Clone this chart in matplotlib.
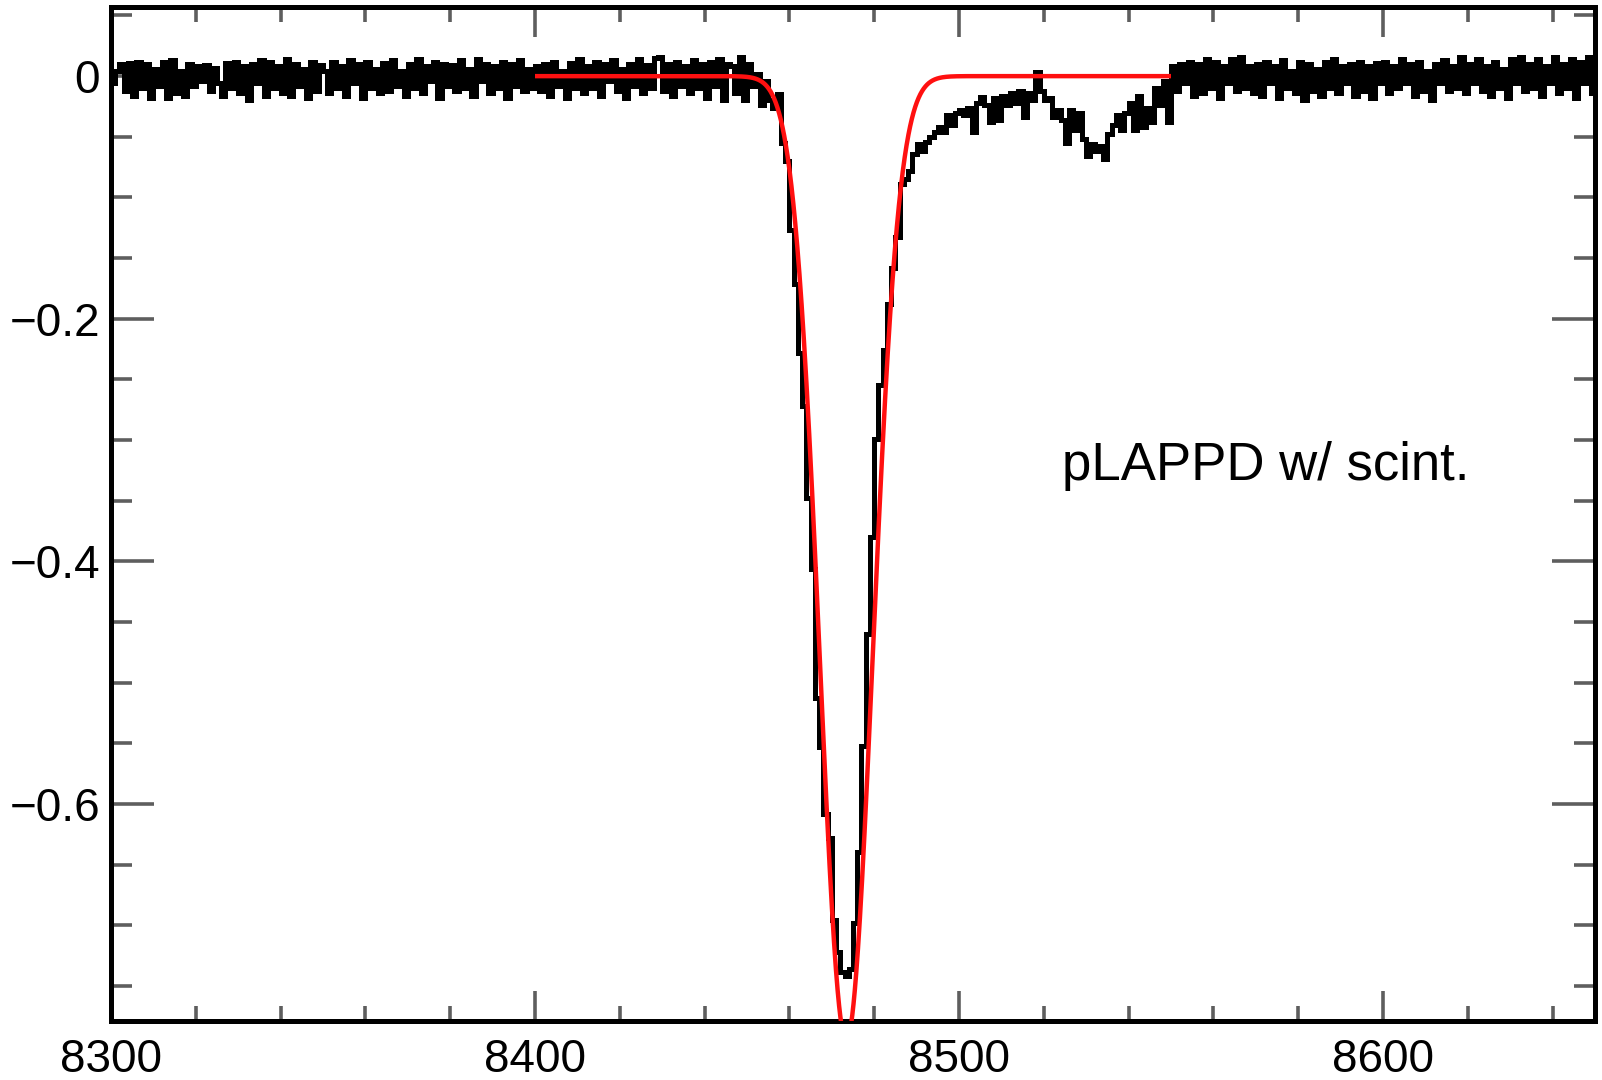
import matplotlib
matplotlib.use("Agg")
import matplotlib.pyplot as plt
import numpy as np
from matplotlib.ticker import MultipleLocator, FixedLocator, FuncFormatter

# ---------------- data ----------------
x_start = 8300.0      # left edge of first bin
bin_width = 1.0

# amplitude per bin, 8300 ... 8449
baseline_pre = [
    -0.006, 0.004, 0.010, -0.012, 0.011, -0.016, 0.012, -0.010, 0.010, -0.018,
    0.006, -0.008, 0.012, -0.018, 0.013, -0.014, 0.004, -0.016, 0.010, -0.008,
    0.008, -0.004, 0.009, -0.012, 0.007, -0.006, -0.016, 0.011, -0.010, 0.012,
    -0.014, 0.008, -0.020, 0.010, -0.006, 0.013, -0.016, 0.012, -0.010, 0.008,
    -0.014, 0.014, -0.016, 0.010, -0.008, 0.006, -0.018, 0.012, -0.012, 0.009,
    0.004, -0.014, 0.012, -0.010, 0.008, -0.016, 0.013, -0.006, 0.010, -0.018,
    0.012, -0.010, 0.006, -0.014, 0.011, -0.012, 0.013, -0.008, 0.004, -0.016,
    0.010, -0.010, 0.014, -0.014, 0.008, -0.004, 0.012, -0.018, 0.010, -0.008,
    0.009, -0.012, 0.013, -0.010, 0.006, -0.016, 0.014, -0.004, 0.010, -0.014,
    0.008, -0.010, 0.012, -0.018, 0.010, -0.008, 0.013, -0.012, 0.006, -0.010,
    0.008, -0.012, 0.010, -0.016, 0.012, -0.008, 0.004, -0.018, 0.011, -0.010,
    0.014, -0.014, 0.008, -0.010, 0.012, -0.016, 0.010, -0.004, 0.013, -0.012,
    0.006, -0.018, 0.010, -0.008, 0.014, -0.014, 0.009, -0.010, 0.015, 0.016,
    -0.012, 0.010, -0.016, 0.012, -0.008, 0.008, -0.014, 0.013, -0.010, 0.010,
    -0.018, 0.012, -0.008, 0.014, -0.020, 0.010, 0.008, -0.014, 0.016, -0.020,
]

# amplitude per bin, 8450 ... 8549 (pulse + afterpulse)
pulse = [
    0.010, -0.008, 0.002, -0.024, -0.004, -0.020, -0.026, -0.015, -0.055, -0.070,
    -0.127, -0.171, -0.228, -0.272, -0.348, -0.406, -0.513, -0.553, -0.608, -0.628,
    -0.696, -0.722, -0.739, -0.742, -0.736, -0.698, -0.640, -0.552, -0.460, -0.380,
    -0.299, -0.255, -0.226, -0.188, -0.158, -0.133, -0.089, -0.085, -0.078, -0.064,
    -0.056, -0.062, -0.054, -0.050, -0.046, -0.042, -0.046, -0.032, -0.040, -0.030,
    -0.028, -0.032, -0.026, -0.046, -0.022, -0.017, -0.024, -0.038, -0.018, -0.036,
    -0.016, -0.024, -0.014, -0.022, -0.012, -0.034, -0.014, -0.020, 0.003, -0.012,
    -0.020, -0.018, -0.034, -0.028, -0.036, -0.055, -0.028, -0.044, -0.030, -0.052,
    -0.066, -0.056, -0.062, -0.058, -0.068, -0.048, -0.040, -0.032, -0.044, -0.030,
    -0.022, -0.044, -0.016, -0.042, -0.026, -0.038, -0.010, -0.024, -0.004, -0.038,
]

# amplitude per bin, 8550 ... 8649
baseline_post = [
    0.008, -0.012, 0.010, -0.006, 0.012, -0.016, 0.010, -0.014, 0.014, -0.010,
    0.012, -0.018, 0.008, -0.006, 0.014, -0.012, 0.016, -0.010, 0.008, -0.014,
    0.010, -0.016, 0.012, -0.006, 0.008, -0.018, 0.013, -0.010, 0.004, -0.014,
    0.012, -0.020, 0.010, -0.012, 0.006, -0.016, 0.012, -0.010, 0.014, -0.014,
    0.008, -0.006, 0.010, -0.016, 0.012, -0.012, 0.008, -0.018, 0.011, -0.006,
    0.012, -0.014, 0.008, -0.010, 0.014, -0.006, 0.010, -0.016, 0.012, -0.012,
    0.004, -0.020, 0.010, -0.006, 0.013, -0.012, 0.008, -0.010, 0.016, -0.014,
    0.010, -0.006, 0.014, -0.012, 0.008, -0.016, 0.012, -0.010, 0.006, -0.018,
    0.014, -0.006, 0.016, -0.012, 0.010, -0.010, 0.014, -0.016, 0.008, -0.006,
    0.016, -0.014, 0.010, -0.010, 0.014, -0.018, 0.012, -0.006, 0.016, -0.014,
]

# Gaussian fit (red curve)
fit_amplitude = -0.795
fit_mean = 8473.4
fit_sigma = 6.2
fit_range = (8400.0, 8550.0)

x_tick_values = [8300, 8400, 8500, 8600]
y_tick_values = [-0.6, -0.4, -0.2, 0.0]
label_text = "pLAPPD w/ scint."

# ---------------- plot ----------------
plt.rcParams["font.family"] = ["Liberation Sans", "DejaVu Sans"]

W, H = 1602, 1080
fig = plt.figure(figsize=(W / 100, H / 100), dpi=100)
L, R, T, B = 111, 1595, 7, 1021
ax = fig.add_axes([L / W, 1 - B / H, (R - L) / W, (B - T) / H])

values = np.array(baseline_pre + pulse + baseline_post)
edges = x_start + bin_width * np.arange(len(values) + 1)
ax.stairs(values, edges, baseline=None, color="black", linewidth=3.6, zorder=2)

xf = np.linspace(fit_range[0], fit_range[1], 3000)
yf = fit_amplitude * np.exp(-0.5 * ((xf - fit_mean) / fit_sigma) ** 2)
ax.plot(xf, yf, color="#ff1010", linewidth=3.2, zorder=3, solid_capstyle="butt")

ax.text(8524.2, -0.333, label_text, fontsize=38, ha="left", va="baseline")

ax.set_xlim(8300, 8650)
ax.set_ylim(-0.779, 0.057)

ax.xaxis.set_major_locator(FixedLocator(x_tick_values))
ax.xaxis.set_minor_locator(MultipleLocator(20))
ax.yaxis.set_major_locator(FixedLocator(y_tick_values))
ax.yaxis.set_minor_locator(MultipleLocator(0.05))


def yfmt(v, p):
    if abs(v) < 1e-9:
        return "0"
    return f"{v:.1f}".replace("-", "\u2212")


ax.yaxis.set_major_formatter(FuncFormatter(yfmt))
ax.xaxis.set_major_formatter(FuncFormatter(lambda v, p: f"{v:.0f}"))

tcol = "#5e5e5e"
ax.tick_params(axis="both", which="both", direction="in", top=True, right=True,
               color=tcol, width=2.6, labelsize=33, labelcolor="black")
ax.tick_params(axis="x", which="major", length=21.5, pad=12)
ax.tick_params(axis="x", which="minor", length=10.8)
ax.tick_params(axis="y", which="major", length=31, pad=8)
ax.tick_params(axis="y", which="minor", length=15)

for s in ax.spines.values():
    s.set_linewidth(3.6)
    s.set_color("black")

fig.savefig("out.png", dpi=100)
